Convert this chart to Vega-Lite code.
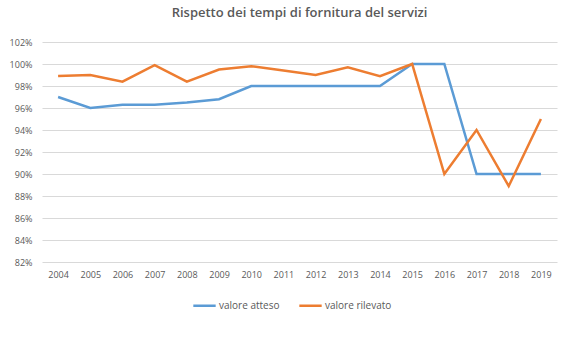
{
  "$schema": "https://vega.github.io/schema/vega-lite/v6.json",
  "autosize": "none",
  "width": 515,
  "height": 220,
  "padding": {"left": 42, "top": 42, "right": 13, "bottom": 95},
  "background": "white",
  "title": {
    "text": "Rispetto dei tempi di fornitura del servizi",
    "font": "Open Sans",
    "fontSize": 13,
    "fontWeight": 600,
    "color": "#595959",
    "anchor": "middle",
    "offset": 18
  },
  "data": {
    "values": [
      {"anno": "2004", "serie": "valore atteso", "valore": 0.970},
      {"anno": "2005", "serie": "valore atteso", "valore": 0.960},
      {"anno": "2006", "serie": "valore atteso", "valore": 0.963},
      {"anno": "2007", "serie": "valore atteso", "valore": 0.963},
      {"anno": "2008", "serie": "valore atteso", "valore": 0.965},
      {"anno": "2009", "serie": "valore atteso", "valore": 0.968},
      {"anno": "2010", "serie": "valore atteso", "valore": 0.980},
      {"anno": "2011", "serie": "valore atteso", "valore": 0.980},
      {"anno": "2012", "serie": "valore atteso", "valore": 0.980},
      {"anno": "2013", "serie": "valore atteso", "valore": 0.980},
      {"anno": "2014", "serie": "valore atteso", "valore": 0.980},
      {"anno": "2015", "serie": "valore atteso", "valore": 1.000},
      {"anno": "2016", "serie": "valore atteso", "valore": 1.000},
      {"anno": "2017", "serie": "valore atteso", "valore": 0.900},
      {"anno": "2018", "serie": "valore atteso", "valore": 0.900},
      {"anno": "2019", "serie": "valore atteso", "valore": 0.900},
      {"anno": "2004", "serie": "valore rilevato", "valore": 0.989},
      {"anno": "2005", "serie": "valore rilevato", "valore": 0.990},
      {"anno": "2006", "serie": "valore rilevato", "valore": 0.984},
      {"anno": "2007", "serie": "valore rilevato", "valore": 0.999},
      {"anno": "2008", "serie": "valore rilevato", "valore": 0.984},
      {"anno": "2009", "serie": "valore rilevato", "valore": 0.995},
      {"anno": "2010", "serie": "valore rilevato", "valore": 0.998},
      {"anno": "2011", "serie": "valore rilevato", "valore": 0.994},
      {"anno": "2012", "serie": "valore rilevato", "valore": 0.990},
      {"anno": "2013", "serie": "valore rilevato", "valore": 0.997},
      {"anno": "2014", "serie": "valore rilevato", "valore": 0.989},
      {"anno": "2015", "serie": "valore rilevato", "valore": 1.000},
      {"anno": "2016", "serie": "valore rilevato", "valore": 0.900},
      {"anno": "2017", "serie": "valore rilevato", "valore": 0.940},
      {"anno": "2018", "serie": "valore rilevato", "valore": 0.889},
      {"anno": "2019", "serie": "valore rilevato", "valore": 0.950}
    ]
  },
  "mark": {"type": "line", "strokeWidth": 2.5, "strokeJoin": "miter"},
  "encoding": {
    "x": {
      "field": "anno",
      "type": "ordinal",
      "scale": {"type": "point", "padding": 0.5},
      "axis": {
        "title": null,
        "labelAngle": 0,
        "domain": false,
        "ticks": false,
        "grid": false,
        "labelPadding": 8,
        "labelFont": "Open Sans",
        "labelFontSize": 9,
        "labelColor": "#595959"
      }
    },
    "y": {
      "field": "valore",
      "type": "quantitative",
      "scale": {"domain": [0.82, 1.02], "nice": false, "zero": false},
      "axis": {
        "title": null,
        "format": ".0%",
        "values": [0.82, 0.84, 0.86, 0.88, 0.90, 0.92, 0.94, 0.96, 0.98, 1.00, 1.02],
        "domain": false,
        "ticks": false,
        "grid": true,
        "gridColor": "#D9D9D9",
        "gridWidth": 1,
        "labelPadding": 10,
        "labelFont": "Open Sans",
        "labelFontSize": 9,
        "labelColor": "#595959"
      }
    },
    "color": {
      "field": "serie",
      "type": "nominal",
      "scale": {"domain": ["valore atteso", "valore rilevato"], "range": ["#5B9BD5", "#ED7D31"]},
      "legend": {
        "title": null,
        "orient": "none",
        "legendX": 150,
        "legendY": 251,
        "direction": "horizontal",
        "symbolType": "stroke",
        "symbolSize": 500,
        "symbolStrokeWidth": 2.5,
        "labelFont": "Open Sans",
        "labelFontSize": 10,
        "labelColor": "#595959",
        "labelOffset": 2,
        "columnPadding": 14
      }
    }
  },
  "config": {
    "view": {"stroke": null}
  }
}
